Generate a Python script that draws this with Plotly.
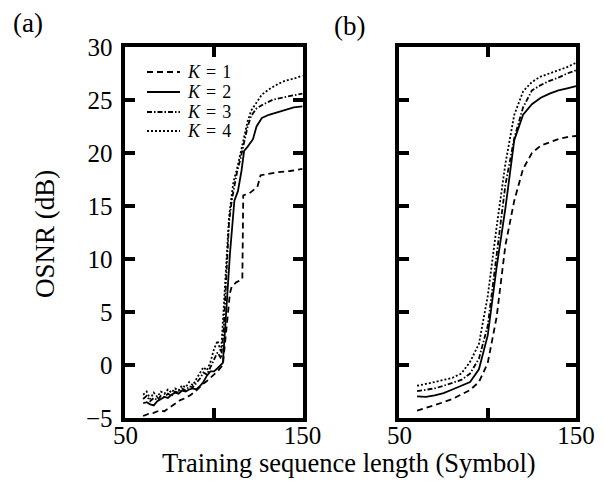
import plotly.graph_objects as go

W, H = 605, 484

# ---------------- data ----------------
k_labels = ["K = 1", "K = 2", "K = 3", "K = 4"]

# Panel (a)
a_x1 = [60, 63, 66, 69, 72, 75, 78, 81, 84, 87, 90, 93, 96, 99, 102, 105, 107, 109, 110, 112.5, 116, 116.5, 120, 124.5, 126.3, 130, 136.5, 143, 150]
a_y1 = [-4.8, -4.6, -4.5, -4.3, -4.35, -4.0, -3.6, -3.3, -3.1, -2.8, -2.4, -1.9, -1.5, -1.0, -0.6, 0.0, 3.5, 6.8, 7.4, 7.8, 8.1, 16.0, 16.2, 16.8, 17.9, 18.0, 18.2, 18.3, 18.5]

a_x2 = [60, 62, 64, 66, 68, 70, 72, 74, 76, 78, 80, 82, 84, 86, 88, 90, 92, 94, 96, 98, 100, 102, 105, 107, 109, 111.5, 113.5, 115.5, 117, 119, 122, 124, 127, 131, 135, 140, 145, 150]
a_y2 = [-3.6, -3.5, -3.7, -3.8, -3.4, -3.2, -3.0, -3.1, -2.8, -2.6, -2.7, -2.4, -2.5, -2.3, -2.2, -2.3, -2.0, -1.6, -1.0, -0.6, -0.6, -0.3, 0.2, 5.3, 10.5, 15.5, 16.4, 18.3, 20.2, 20.6, 21.3, 22.5, 23.3, 23.6, 23.8, 24.1, 24.3, 24.4]

a_x3 = [60, 62, 64, 66, 68, 70, 72, 74, 76, 78, 80, 82, 84, 86, 88, 90, 92, 94, 96, 98, 100, 102, 104, 105.5, 107, 108.5, 110, 111.5, 113, 115, 117, 119, 121, 124, 128, 133, 138, 143, 147, 150]
a_y3 = [-3.2, -2.9, -3.4, -3.1, -3.3, -2.9, -3.0, -2.7, -2.9, -2.5, -2.6, -2.2, -2.4, -2.0, -2.1, -1.7, -1.3, -0.7, -0.9, -0.2, 0.5, 1.2, 0.6, 3.5, 8.5, 13.5, 15.5, 17.0, 18.2, 19.5, 21.0, 22.5, 23.5, 24.2, 24.6, 25.0, 25.2, 25.4, 25.5, 25.6]

a_x4 = [60, 62, 64, 66, 68, 70, 72, 74, 76, 78, 80, 82, 84, 86, 88, 90, 92, 94, 96, 98, 100, 102, 104, 105, 107, 108.5, 110, 111, 113, 115, 117, 119, 121, 124, 127, 131, 136, 140, 145, 150]
a_y4 = [-2.8, -2.5, -3.2, -2.6, -3.0, -2.5, -2.7, -2.3, -2.6, -2.2, -2.4, -1.9, -2.1, -1.6, -1.9, -1.3, -0.8, -0.2, -0.5, 0.3, 1.5, 2.3, 1.2, 4.0, 9.0, 14.0, 16.0, 17.3, 18.5, 20.0, 21.5, 23.0, 24.0, 24.8, 25.5, 26.0, 26.5, 26.8, 27.0, 27.3]

# Panel (b)
b_x = [60, 65, 70, 75, 80, 85, 90, 95, 100, 105, 110, 115, 120, 125, 130, 135, 140, 145, 150]
b_y1 = [-4.3, -4.05, -3.8, -3.5, -3.2, -2.8, -2.35, -1.6, 0.2, 4.5, 11.3, 15.5, 18.5, 20.0, 20.7, 21.0, 21.3, 21.5, 21.6]
b_y2 = [-2.95, -3.0, -2.85, -2.65, -2.3, -1.95, -1.6, -0.4, 2.8, 9.2, 14.8, 21.2, 23.6, 24.6, 25.2, 25.6, 25.9, 26.1, 26.3]
b_y3 = [-2.45, -2.35, -2.2, -1.95, -1.7, -1.4, -0.8, 0.6, 3.7, 10.2, 17.0, 21.4, 24.3, 25.9, 26.4, 26.8, 27.1, 27.5, 27.8]
b_y4 = [-1.95, -1.8, -1.6, -1.4, -1.2, -0.8, 0.3, 2.0, 6.5, 13.0, 19.0, 23.6, 25.8, 26.7, 27.2, 27.5, 27.8, 28.1, 28.5]

x_tickvals = [50, 100, 150]
x_ticktext = ["50", "", "150"]
y_tickvals = [-5, 0, 5, 10, 15, 20, 25, 30]

# ---------------- styles ----------------
dashes = ["6px,4px", "solid", "5px,2px,1.5px,2px", "2px,2px"]
FONT = "Liberation Serif"

fig = go.Figure()
a_sets = [(a_x1, a_y1), (a_x2, a_y2), (a_x3, a_y3), (a_x4, a_y4)]
for i, (xs, ys) in enumerate(a_sets):
    fig.add_trace(go.Scatter(x=xs, y=ys, mode="lines", xaxis="x", yaxis="y",
                             line=dict(color="black", width=1.8, dash=dashes[i]),
                             showlegend=False, name=k_labels[i]))
for i, ys in enumerate([b_y1, b_y2, b_y3, b_y4]):
    fig.add_trace(go.Scatter(x=b_x, y=ys, mode="lines", xaxis="x2", yaxis="y2",
                             line=dict(color="black", width=1.8, dash=dashes[i]),
                             showlegend=False, name=k_labels[i]))

def px_x(p):
    return p / W

def px_y(p):
    return 1 - p / H

LW = 3.8
ax_common = dict(showline=True, linecolor="black", linewidth=LW, mirror="allticks",
                 ticks="inside", ticklen=10, tickwidth=LW, tickcolor="black",
                 showgrid=False, zeroline=False, automargin=False,
                 tickfont=dict(family=FONT, size=25, color="black"))

ydom = [px_y(420 - LW / 2), px_y(45 + LW / 2)]
fig.update_layout(
    width=W, height=H, margin=dict(l=0, r=0, t=0, b=0, autoexpand=False),
    paper_bgcolor="white", plot_bgcolor="white",
    xaxis=dict(domain=[px_x(123.5 + LW / 2), px_x(304.5 - LW / 2)], range=[50, 150],
               tickvals=x_tickvals, ticktext=x_ticktext, anchor="y",
               ticklabelstandoff=-8, **ax_common),
    xaxis2=dict(domain=[px_x(397.5 + LW / 2), px_x(578 - LW / 2)], range=[50, 150],
                tickvals=x_tickvals, ticktext=x_ticktext, anchor="y2",
                ticklabelstandoff=-8, **ax_common),
    yaxis=dict(domain=ydom, range=[-5, 30], tickvals=y_tickvals, anchor="x",
               ticklabelstandoff=4, **ax_common),
    yaxis2=dict(domain=ydom, range=[-5, 30], tickvals=y_tickvals, anchor="x2",
                showticklabels=False, **ax_common),
)

def txt_ann(text, x, y, size=25, angle=0, xa="center"):
    return dict(text=text, x=px_x(x), y=px_y(y), xref="paper", yref="paper",
                xanchor=xa, yanchor="middle", textangle=angle, showarrow=False,
                font=dict(family=FONT, size=size, color="black"))

ann = [
    txt_ann("(a)", 28, 23, size=27),
    txt_ann("(b)", 349, 26, size=27),
    txt_ann("OSNR (dB)", 45, 234, size=27, angle=-90),
    txt_ann("Training sequence length (Symbol)", 349, 463, size=26.5),
]

# legend (manual, inside panel a)
shapes = []
rows = [72, 92, 112, 131]
sp = "\u2004"
for i, lab in enumerate(k_labels):
    shapes.append(dict(type="line", xref="paper", yref="paper",
                       x0=px_x(147), x1=px_x(180), y0=px_y(rows[i]), y1=px_y(rows[i]),
                       line=dict(color="black", width=1.8, dash=dashes[i])))
    label = "<i>K</i>" + sp + "=" + sp + lab.split("=")[1].strip()
    ann.append(txt_ann(label, 185, rows[i], size=18, xa="left"))

fig.update_layout(annotations=ann, shapes=shapes)
fig.write_html("out.html")
